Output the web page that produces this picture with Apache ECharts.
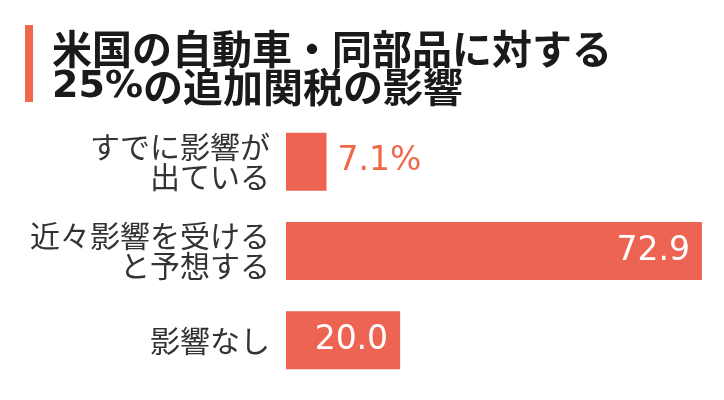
<!DOCTYPE html>
<html>
<head>
<meta charset="utf-8">
<script src="https://cdn.jsdelivr.net/npm/echarts@6/dist/echarts.min.js"></script>
<style>
html,body{margin:0;padding:0;background:#fff;}
#chart{width:724px;height:400px;}
</style>
</head>
<body>
<div id="chart"></div>
<script>
const titleLine1 = '米国の自動車・同部品に対する';
const titleNum = '25%';
const titleLine2 = 'の追加関税の影響';
const categories = ['すでに影響が\n出ている', '近々影響を受ける\nと予想する', '影響なし'];
const values = [7.1, 72.9, 20.0];
const valueSuffix = ['%', '', ''];

const barColor = '#EE6453';
const accentColor = '#F0684A';

const chart = echarts.init(document.getElementById('chart'));
chart.setOption({
  backgroundColor: '#fff',
  animation: false,
  title: {
    text: '{t|' + titleLine1 + '}\n{d|' + titleNum + '}{t|' + titleLine2 + '}',
    left: 47,
    top: 25,
    textStyle: {
      rich: {
        t: {
          fontFamily: 'Noto Sans CJK JP',
          fontSize: 40,
          lineHeight: 38,
          fontWeight: 'bold',
          color: '#1a1a1a'
        },
        d: {
          fontFamily: 'DejaVu Sans',
          fontSize: 38,
          lineHeight: 38,
          fontWeight: 'bold',
          color: '#1a1a1a'
        }
      }
    }
  },
  graphic: [{
    type: 'rect',
    left: 25,
    top: 25,
    shape: { width: 8, height: 77 },
    style: { fill: accentColor }
  }],
  grid: { left: 286, top: 117, width: 416.5, height: 268 },
  xAxis: {
    type: 'value', min: 0, max: 73,
    show: false
  },
  yAxis: {
    type: 'category',
    data: categories,
    inverse: true,
    axisLine: { show: false },
    axisTick: { show: false },
    axisLabel: {
      margin: 16,
      fontFamily: 'Noto Sans CJK JP',
      fontSize: 30,
      lineHeight: 30,
      color: '#333',
      align: 'right'
    }
  },
  series: [{
    type: 'bar',
    barWidth: 58,
    itemStyle: { color: barColor },
    data: values.map((v, i) => ({
      value: v,
      label: i === 0
        ? { show: true, position: 'right', distance: 11, color: accentColor }
        : { show: true, position: 'insideRight', distance: 12, color: '#fff' }
    })),
    label: {
      fontFamily: 'DejaVu Sans',
      fontSize: 33,
      formatter: p => p.value.toFixed(1) + valueSuffix[p.dataIndex]
    }
  }]
});
</script>
</body>
</html>
